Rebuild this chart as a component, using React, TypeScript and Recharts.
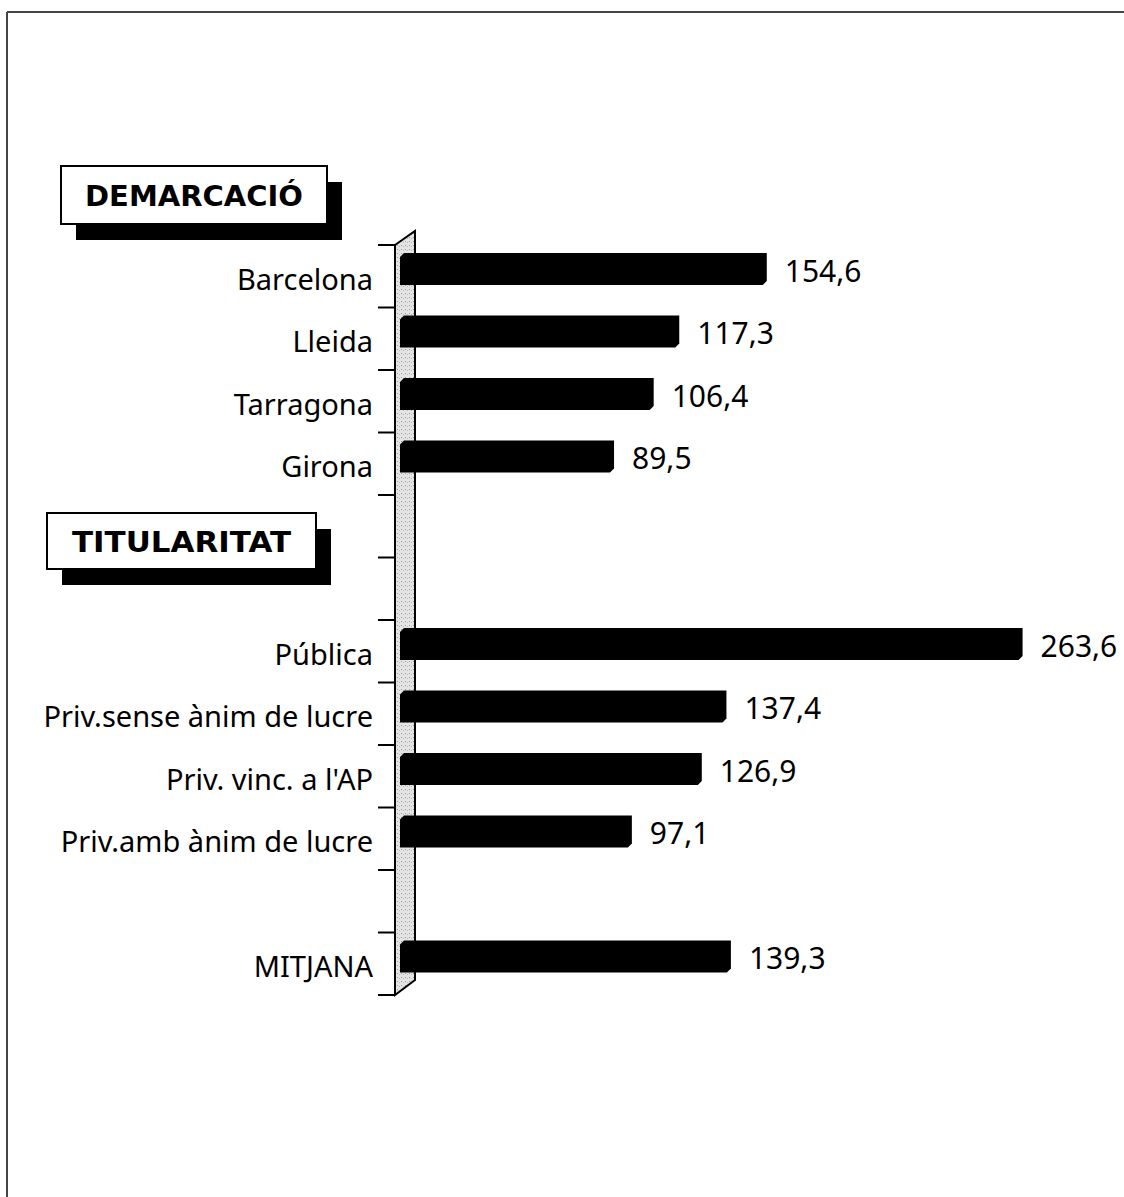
import { BarChart, Bar, XAxis, YAxis, LabelList } from 'recharts'

const categories = ['Barcelona', 'Lleida', 'Tarragona', 'Girona', '', '', 'Pública', 'Priv.sense ànim de lucre', "Priv. vinc. a l'AP", 'Priv.amb ànim de lucre', '', 'MITJANA']
const values: (number | null)[] = [154.6, 117.3, 106.4, 89.5, null, null, 263.6, 137.4, 126.9, 97.1, null, 139.3]
const sections = ['DEMARCACIÓ', 'TITULARITAT']

const data = categories.map((name, i) => ({ key: `c${i}`, name, value: values[i] }))

const W = 1124
const H = 1197
const TOP = 245
const BOTTOM = 202
const PLOT_H = H - TOP - BOTTOM
const BAND = PLOT_H / categories.length
const LIFT = 7
const FONT = '"Noto Sans", sans-serif'

const fmt = (v: number) => v.toFixed(1).replace('.', ',')

const CategoryTick = ({ x, y, payload, index }: any) => {
  const label = data[index]?.name ?? ''
  const last = index === categories.length - 1
  return (
    <g>
      <line x1={378} x2={395} y1={y - BAND / 2} y2={y - BAND / 2} stroke="#000" strokeWidth={2} />
      {last && <line x1={378} x2={395} y1={y + BAND / 2} y2={y + BAND / 2} stroke="#000" strokeWidth={2} />}
      <text x={373} y={y + 2} textAnchor="end" dominantBaseline="central" fontSize={29} fontFamily={FONT} fill="#000">{label}</text>
    </g>
  )
}

const Bar3D = ({ x, y, width, height }: any) => {
  if (!width || width <= 0) return null
  const d = 4
  const x0 = x - 4
  const x1 = x + width
  const y0 = y - LIFT
  const y1 = y0 + height
  const pts = [[x0, y0 + d], [x0 + d, y0], [x1, y0], [x1, y1 - d], [x1 - d, y1], [x0, y1]]
  return <polygon points={pts.map(p => p.join(',')).join(' ')} fill="#000" />
}

const ValueLabel = ({ x, y, width, height, value }: any) => {
  if (value == null) return null
  return (
    <text x={x + width + 18} y={y + height / 2 - LIFT + 1} dominantBaseline="central" fontSize={30} fontFamily={FONT} fill="#000">{fmt(value)}</text>
  )
}

const SectionBox = ({ x, y, w, h, text, tw }: any) => (
  <g>
    <rect x={x + 15} y={y + 16} width={w} height={h} fill="#000" />
    <rect x={x} y={y} width={w} height={h} fill="#fff" stroke="#000" strokeWidth={2} />
    <text x={x + w / 2 - tw / 2} y={y + h / 2 + 1} textLength={tw} lengthAdjust="spacingAndGlyphs" dominantBaseline="central" fontSize={29} fontWeight="bold" fontFamily='"DejaVu Sans", sans-serif' fill="#000">{text}</text>
  </g>
)

export default function App() {
  return (
    <div style={{ position: 'absolute', left: 0, top: 0, width: W, height: H, background: '#fff' }}>
      <svg width={W} height={H} style={{ position: 'absolute', left: 0, top: 0 }}>
        <defs>
          <pattern id="stipple" width="4" height="4" patternUnits="userSpaceOnUse">
            <rect width="4" height="4" fill="#e4e4e4" />
            <rect x="1" y="1" width="1" height="1" fill="#9a9a9a" />
            <rect x="3" y="2" width="1" height="1" fill="#b8b8b8" />
          </pattern>
        </defs>
        <line x1={7} x2={W} y1={12} y2={12} stroke="#444" strokeWidth={2} />
        <line x1={7} x2={7} y1={12} y2={H} stroke="#444" strokeWidth={2} />
        <polygon points={`395,${TOP} 415,231 415,${TOP + PLOT_H - 15} 395,${TOP + PLOT_H}`} fill="url(#stipple)" stroke="#000" strokeWidth={2} />
        <SectionBox x={61} y={166} w={266} h={58} tw={218} text={sections[0]} />
        <SectionBox x={47} y={513} w={269} h={56} tw={219} text={sections[1]} />
      </svg>
      <div style={{ position: 'absolute', left: 0, top: 0 }}>
        <BarChart width={W} height={H} data={data} layout="vertical" margin={{ top: TOP, bottom: BOTTOM, left: 4, right: 16 }} barCategoryGap={0}>
          <XAxis type="number" domain={[0, 300]} hide />
          <YAxis type="category" dataKey="key" width={400} axisLine={false} tickLine={false} tick={<CategoryTick />} interval={0} />
          <Bar dataKey="value" barSize={32} shape={<Bar3D />} isAnimationActive={false}>
            <LabelList dataKey="value" content={<ValueLabel />} />
          </Bar>
        </BarChart>
      </div>
    </div>
  )
}
